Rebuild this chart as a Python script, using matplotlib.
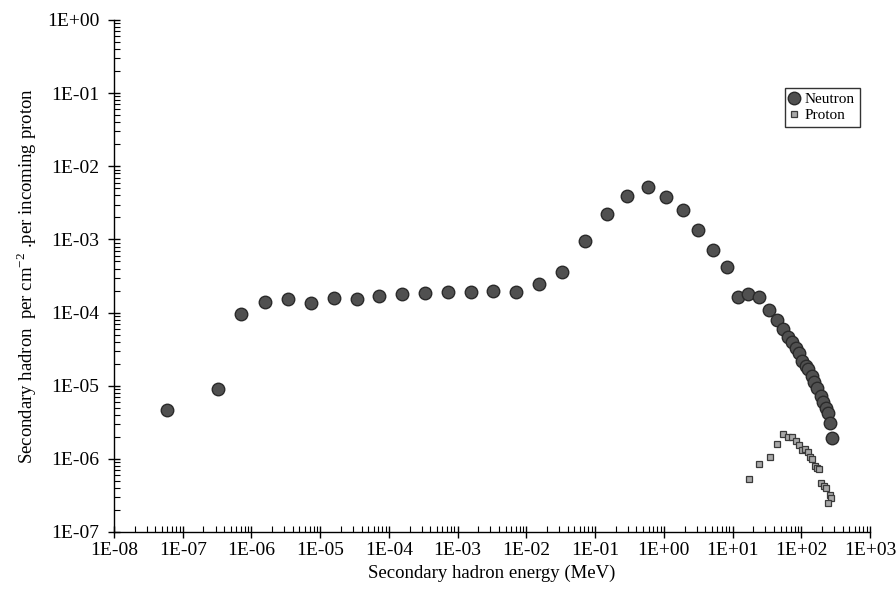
import matplotlib
matplotlib.use("Agg")
import matplotlib.pyplot as plt
from matplotlib.ticker import LogLocator, FixedLocator, NullFormatter
import numpy as np

plt.rcParams['font.family'] = ['Liberation Serif', 'DejaVu Serif']
plt.rcParams['mathtext.fontset'] = 'custom'
plt.rcParams['mathtext.rm'] = 'Liberation Serif'

neutron_energy = [5.9e-8, 3.26e-7, 7.05e-7, 1.57e-6, 3.40e-6, 7.35e-6, 1.59e-5, 3.44e-5,
                  7.18e-5, 1.55e-4, 3.35e-4, 7.24e-4, 1.56e-3, 3.27e-3, 7.06e-3, 1.53e-2,
                  3.30e-2, 7.13e-2, 0.147, 0.294, 0.589, 1.08, 1.92, 3.18, 5.19, 8.38,
                  12.1, 16.9, 24.5, 34.2, 43.9, 54.2, 64.7, 74.0, 83.2, 93.3, 103.5, 116,
                  126, 142, 153, 171, 191, 209, 226, 242, 262, 284]
neutron_flux = [4.66e-6, 9.02e-6, 9.57e-5, 1.39e-4, 1.53e-4, 1.35e-4, 1.58e-4, 1.53e-4,
                1.68e-4, 1.79e-4, 1.88e-4, 1.93e-4, 1.93e-4, 1.99e-4, 1.93e-4, 2.45e-4,
                3.59e-4, 9.62e-4, 2.20e-3, 3.89e-3, 5.21e-3, 3.84e-3, 2.50e-3, 1.33e-3,
                7.28e-4, 4.24e-4, 1.65e-4, 1.78e-4, 1.65e-4, 1.08e-4, 7.80e-5, 5.90e-5,
                4.68e-5, 3.92e-5, 3.23e-5, 2.77e-5, 2.18e-5, 1.86e-5, 1.67e-5, 1.37e-5,
                1.11e-5, 9.31e-6, 7.30e-6, 6.04e-6, 4.91e-6, 4.20e-6, 3.06e-6, 1.95e-6]

proton_energy = [17.1, 24.5, 34.7, 44.3, 54.7, 63.4, 73.2, 83.8, 93.5, 101, 114, 124,
                 134, 145, 157, 168, 181, 194, 214, 229, 262, 271, 243]
proton_flux = [5.25e-7, 8.42e-7, 1.06e-6, 1.58e-6, 2.17e-6, 1.99e-6, 1.97e-6, 1.74e-6,
               1.53e-6, 1.32e-6, 1.35e-6, 1.25e-6, 1.07e-6, 9.86e-7, 8.06e-7, 7.57e-7,
               7.19e-7, 4.72e-7, 4.26e-7, 3.96e-7, 3.21e-7, 2.89e-7, 2.51e-7]

x_ticks = [10.0**e for e in range(-8, 4)]
x_labels = ['1E-08', '1E-07', '1E-06', '1E-05', '1E-04', '1E-03', '1E-02', '1E-01',
            '1E+00', '1E+01', '1E+02', '1E+03']
y_ticks = [10.0**e for e in range(-7, 1)]
y_labels = ['1E-07', '1E-06', '1E-05', '1E-04', '1E-03', '1E-02', '1E-01', '1E+00']

fig = plt.figure(figsize=(8.96, 5.98), dpi=100)
ax = fig.add_axes([114/896, 1-532/598, (870-114)/896, (532-20)/598])

ax.plot(neutron_energy, neutron_flux, linestyle='none', marker='o', markersize=9,
        markerfacecolor='#505050', markeredgecolor='#2a2a2a', markeredgewidth=1.0,
        label='Neutron', zorder=3)
ax.plot(proton_energy, proton_flux, linestyle='none', marker='s', markersize=5,
        markerfacecolor='#a8a8a8', markeredgecolor='#3a3a3a', markeredgewidth=0.9,
        label='Proton', zorder=4)

ax.set_xscale('log')
ax.set_yscale('log')
ax.set_xlim(1e-8, 1e3)
ax.set_ylim(1e-7, 1e0)

ax.xaxis.set_major_locator(FixedLocator(x_ticks))
ax.set_xticklabels(x_labels)
ax.yaxis.set_major_locator(FixedLocator(y_ticks))
ax.set_yticklabels(y_labels)
ax.xaxis.set_minor_locator(LogLocator(base=10, subs=np.arange(2, 10), numticks=100))
ax.yaxis.set_minor_locator(LogLocator(base=10, subs=np.arange(2, 10), numticks=100))
ax.xaxis.set_minor_formatter(NullFormatter())
ax.yaxis.set_minor_formatter(NullFormatter())

for s in ['top', 'right']:
    ax.spines[s].set_visible(False)
for s in ['left', 'bottom']:
    ax.spines[s].set_color('black')
    ax.spines[s].set_linewidth(1.0)

ax.tick_params(which='major', direction='inout', length=9, width=1.0, labelsize=14,
               colors='black')
ax.tick_params(axis='x', which='major', pad=3)
ax.tick_params(axis='y', which='major', pad=6)
ax.tick_params(which='minor', direction='in', length=4, width=0.8)

ax.set_xlabel('Secondary hadron energy (MeV)', fontsize=13.5, labelpad=4)
ax.set_ylabel('Secondary hadron  per cm$^{-2}$ .per incoming proton', fontsize=13.5,
              labelpad=6)

leg = ax.legend(loc='upper left', bbox_to_anchor=((785-114)/756, 1-(88-20)/512),
                frameon=True, fancybox=False, fontsize=11, handlelength=0.6,
                handletextpad=0.4, borderpad=0.3, labelspacing=0.15, borderaxespad=0)
leg.get_frame().set_edgecolor('black')
leg.get_frame().set_linewidth(1.0)

fig.savefig('out.png', dpi=100)
